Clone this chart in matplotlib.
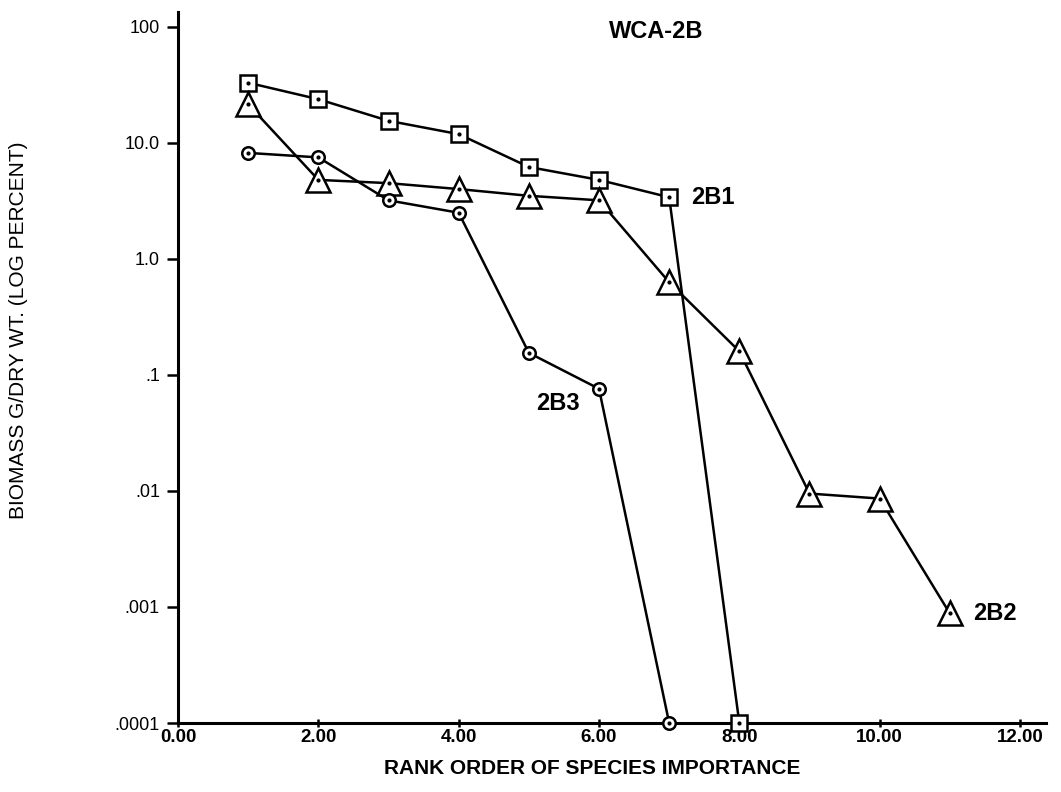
import numpy as np
import matplotlib
matplotlib.use("Agg")
import matplotlib.pyplot as plt

plt.rcParams['font.family'] = ['Liberation Sans', 'DejaVu Sans']

# rank order (x) and biomass (log percent) per site
rank_2b1 = [1, 2, 3, 4, 5, 6, 7, 8]
biomass_2b1 = [33.0, 23.8, 15.5, 11.9, 6.2, 4.8, 3.4, 0.0001]

rank_2b2 = [1, 2, 3, 4, 5, 6, 7, 8, 9, 10, 11]
biomass_2b2 = [21.5, 4.8, 4.5, 4.0, 3.5, 3.2, 0.63, 0.16, 0.0095, 0.0086, 0.00088]

rank_2b3 = [1, 2, 3, 4, 5, 6, 7]
biomass_2b3 = [8.2, 7.5, 3.2, 2.5, 0.155, 0.076, 0.0001]

ytick_vals = [1e-4, 1e-3, 1e-2, 1e-1, 1, 10, 100]
ytick_labels = [".0001", ".001", ".01", ".1", "1.0", "10.0", "100"]
xtick_vals = [0, 2, 4, 6, 8, 10, 12]
xtick_labels = ["0.00", "2.00", "4.00", "6.00", "8.00", "10.00", "12.00"]

fig = plt.figure(figsize=(10.61, 7.92), dpi=100)
ax = fig.add_axes([0.1678, 0.0871, 0.818, 0.898])

series = [
    (rank_2b1, biomass_2b1, "s", 11),
    (rank_2b2, biomass_2b2, "^", 17),
    (rank_2b3, biomass_2b3, "o", 9),
]
for xs, ys, mk, ms in series:
    ax.plot(xs, ys, color="black", lw=1.8, marker=mk, markersize=ms,
            markerfacecolor="white", markeredgecolor="black", markeredgewidth=1.8,
            clip_on=False, zorder=3)
    # small dot in the centre of each symbol
    ax.plot(xs, ys, ls="none", marker="o", markersize=2, color="black",
            clip_on=False, zorder=4)

ax.set_yscale("log")
ax.set_xlim(0, 12.37)
ax.set_ylim(1e-4, 10 ** 2.13)
ax.set_yticks(ytick_vals)
ax.set_yticklabels(ytick_labels)
ax.set_xticks(xtick_vals)
ax.set_xticklabels(xtick_labels)
ax.minorticks_off()

for s in ["top", "right"]:
    ax.spines[s].set_visible(False)
for s in ["left", "bottom"]:
    ax.spines[s].set_linewidth(2.2)

ax.tick_params(axis="y", direction="out", length=8, width=1.8, labelsize=13, pad=5)
ax.tick_params(axis="x", direction="inout", length=6, width=1.8, labelsize=13.5, pad=1)
for lab in ax.get_xticklabels():
    lab.set_fontweight("bold")

ax.set_xlabel("RANK ORDER OF SPECIES IMPORTANCE", fontsize=15, fontweight="bold", labelpad=3)
ax.xaxis.set_label_coords((592 - 178) / 868, -0.05)
fig.text(19 / 1061, 1 - 330 / 792, "BIOMASS G/DRY WT. (LOG PERCENT)", fontsize=15,
         rotation=90, ha="center", va="center")

ax.text(6.82, 10 ** 1.963, "WCA-2B", fontsize=17, fontweight="bold", ha="center", va="center")
ax.text(7.62, 3.4, "2B1", fontsize=17, fontweight="bold", ha="center", va="center")
ax.text(11.65, 0.00088, "2B2", fontsize=17, fontweight="bold", ha="center", va="center")
ax.text(5.42, 0.057, "2B3", fontsize=17, fontweight="bold", ha="center", va="center")

plt.savefig("out.png", dpi=100)
